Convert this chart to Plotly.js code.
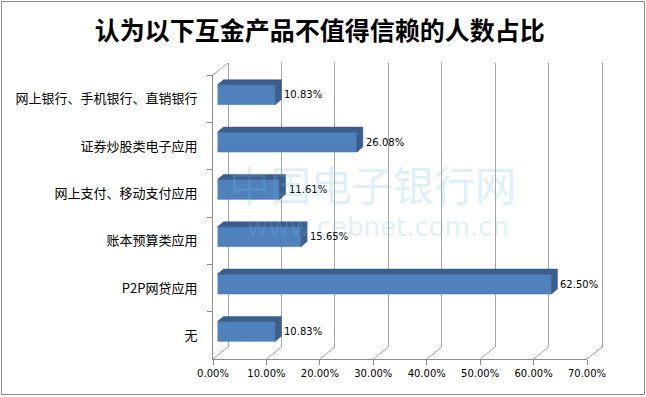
<!DOCTYPE html>
<html>
<head>
<meta charset="utf-8">
<script src="https://cdn.plot.ly/plotly-3.0.1.min.js"></script>
<style>html,body{margin:0;padding:0;background:#fff;}#chart{width:646px;height:397px;}</style>
</head>
<body>
<div id="chart"></div>
<script>
// ---- data ----
const categories = ['网上银行、手机银行、直销银行','证券炒股类电子应用','网上支付、移动支付应用','账本预算类应用','P2P网贷应用','无'];
const values = [10.83, 26.08, 11.61, 15.65, 62.50, 10.83];
const xTickVals = [0, 10, 20, 30, 40, 50, 60, 70];
const xTickText = ['0.00%','10.00%','20.00%','30.00%','40.00%','50.00%','60.00%','70.00%'];
const chartTitle = '认为以下互金产品不值得信赖的人数占比';
const watermark1 = '中国电子银行网';
const watermark2 = 'www.cebnet.com.cn';

// ---- geometry (pixels) ----
const W = 646, H = 397;
const L = 213, R = 587, T = 75, B = 359;       // front plane
const BX = 15, BY = -12;                        // back wall offset
const FX = 4.5, FY = -4;                        // bar face plane offset
const DX = 6, DY = -5;                          // bar depth
const XMAX = 70;
const K = (R - L) / XMAX;                       // px per unit
const PAD = 0.4;                                // pad so edge gridlines are kept
const px = x => x / W;
const py = y => 1 - y / H;
const n = categories.length;
const idx = categories.map((c, i) => i);
const hw = 0.21;
const ddx = DX / K;
const ddy = -DY / ((B - T) / n);

// depth polygons (top + side faces) from values
const polyX = [], polyY = [];
values.forEach((v, i) => {
  const top = i - hw, bot = i + hw;
  polyX.push(0, ddx, v + ddx, v + ddx, v, v, 0, null);
  polyY.push(top, top - ddy, top - ddy, bot - ddy, bot, top, top, null);
});

const axisGray = '#8c8c8c';
const gridGray = '#a6a6a6';

const traces = [
  // back wall (gridlines only)
  {type: 'scatter', x: [0, XMAX], y: [0, 1], xaxis: 'x', yaxis: 'y', mode: 'markers',
   marker: {opacity: 0}, hoverinfo: 'skip', showlegend: false},
  // front axes (labels / ticks)
  {type: 'scatter', x: values, y: categories, xaxis: 'x2', yaxis: 'y2', mode: 'markers',
   marker: {opacity: 0}, hoverinfo: 'skip', showlegend: false},
  // depth faces
  {type: 'scatter', x: polyX, y: polyY, xaxis: 'x3', yaxis: 'y3', mode: 'lines',
   fill: 'toself', fillcolor: '#3a5f8d', line: {width: 0.5, color: '#35577f'},
   hoverinfo: 'skip', showlegend: false},
  // bar faces
  {type: 'bar', orientation: 'h', x: values, y: idx, xaxis: 'x3', yaxis: 'y3',
   width: 2 * hw, marker: {color: '#4f81bd', line: {width: 0.6, color: '#4572a8'}},
   hoverinfo: 'skip', showlegend: false}
];

const shapes = [];
// floor diagonals
xTickVals.forEach(t => {
  const fx = L + t * K;
  shapes.push({type: 'line', xref: 'paper', yref: 'paper',
    x0: px(fx), y0: py(B), x1: px(fx + BX), y1: py(B + BY),
    line: {color: gridGray, width: 1}});
});
// left wall top diagonal
shapes.push({type: 'line', xref: 'paper', yref: 'paper',
  x0: px(L), y0: py(T), x1: px(L + BX), y1: py(T + BY),
  line: {color: gridGray, width: 1}});
// chart border
shapes.push({type: 'rect', xref: 'paper', yref: 'paper',
  x0: px(1.5), y0: py(1.5), x1: px(644.5), y1: py(394.5),
  line: {color: '#8a8a8a', width: 1}, layer: 'below'});

const annotations = values.map((v, i) => ({
  x: v, y: i, xref: 'x3', yref: 'y3', xanchor: 'left', yanchor: 'middle',
  xshift: DX + 1, showarrow: false, text: v.toFixed(2) + '%',
  font: {family: 'DejaVu Sans', size: 10, color: '#000'}
}));
annotations.push({x: px(372), y: py(183), xref: 'paper', yref: 'paper', showarrow: false,
  text: watermark1, font: {family: 'Noto Sans CJK SC', size: 41, color: 'rgba(110,185,225,0.22)'}});
annotations.push({x: px(378), y: py(227), xref: 'paper', yref: 'paper', showarrow: false,
  text: watermark2, font: {family: 'DejaVu Sans', size: 26, color: 'rgba(110,185,225,0.22)'}});

const layout = {
  width: W, height: H,
  margin: {l: 0, r: 0, t: 0, b: 0},
  paper_bgcolor: '#fff', plot_bgcolor: 'rgba(0,0,0,0)',
  showlegend: false,
  title: {text: chartTitle, x: 0.495, xanchor: 'center', y: py(31), yanchor: 'middle',
    font: {family: 'Noto Sans CJK SC', size: 25, color: '#000', weight: 'bold'}},
  xaxis: {domain: [px(L + BX - PAD * K), px(R + BX + PAD * K)], range: [-PAD, XMAX + PAD], anchor: 'y',
    tickvals: xTickVals, showgrid: true, gridcolor: gridGray, gridwidth: 1,
    zeroline: false, showticklabels: false, ticks: '', showline: false, fixedrange: true},
  yaxis: {domain: [py(B + BY), py(T + BY)], range: [0, 1], anchor: 'x',
    showgrid: false, zeroline: false, showticklabels: false, ticks: '', showline: false},
  xaxis2: {domain: [px(L), px(R)], range: [0, XMAX], anchor: 'y2',
    tickvals: xTickVals, ticktext: xTickText, ticks: 'outside', ticklen: 5,
    tickcolor: axisGray, showline: true, linecolor: axisGray, linewidth: 1,
    showgrid: false, zeroline: false,
    tickfont: {family: 'DejaVu Sans', size: 10, color: '#000'}},
  yaxis2: {domain: [py(B), py(T)], anchor: 'x2', type: 'category',
    categoryorder: 'array', categoryarray: categories, range: [n - 0.5, -0.5],
    tickson: 'boundaries', ticks: 'outside', ticklen: 5, tickcolor: axisGray,
    showline: true, linecolor: axisGray, linewidth: 1, showgrid: false, zeroline: false,
    ticklabelstandoff: 12,
    tickfont: {family: 'Noto Sans CJK SC', size: 13, color: '#000'}},
  xaxis3: {domain: [px(L + FX), px(R + FX)], range: [0, XMAX], anchor: 'y3',
    visible: false},
  yaxis3: {domain: [py(B + FY), py(T + FY)], range: [n - 0.5, -0.5], anchor: 'x3',
    visible: false},
  shapes: shapes,
  annotations: annotations
};

Plotly.newPlot('chart', traces, layout, {staticPlot: true});
</script>
</body>
</html>
